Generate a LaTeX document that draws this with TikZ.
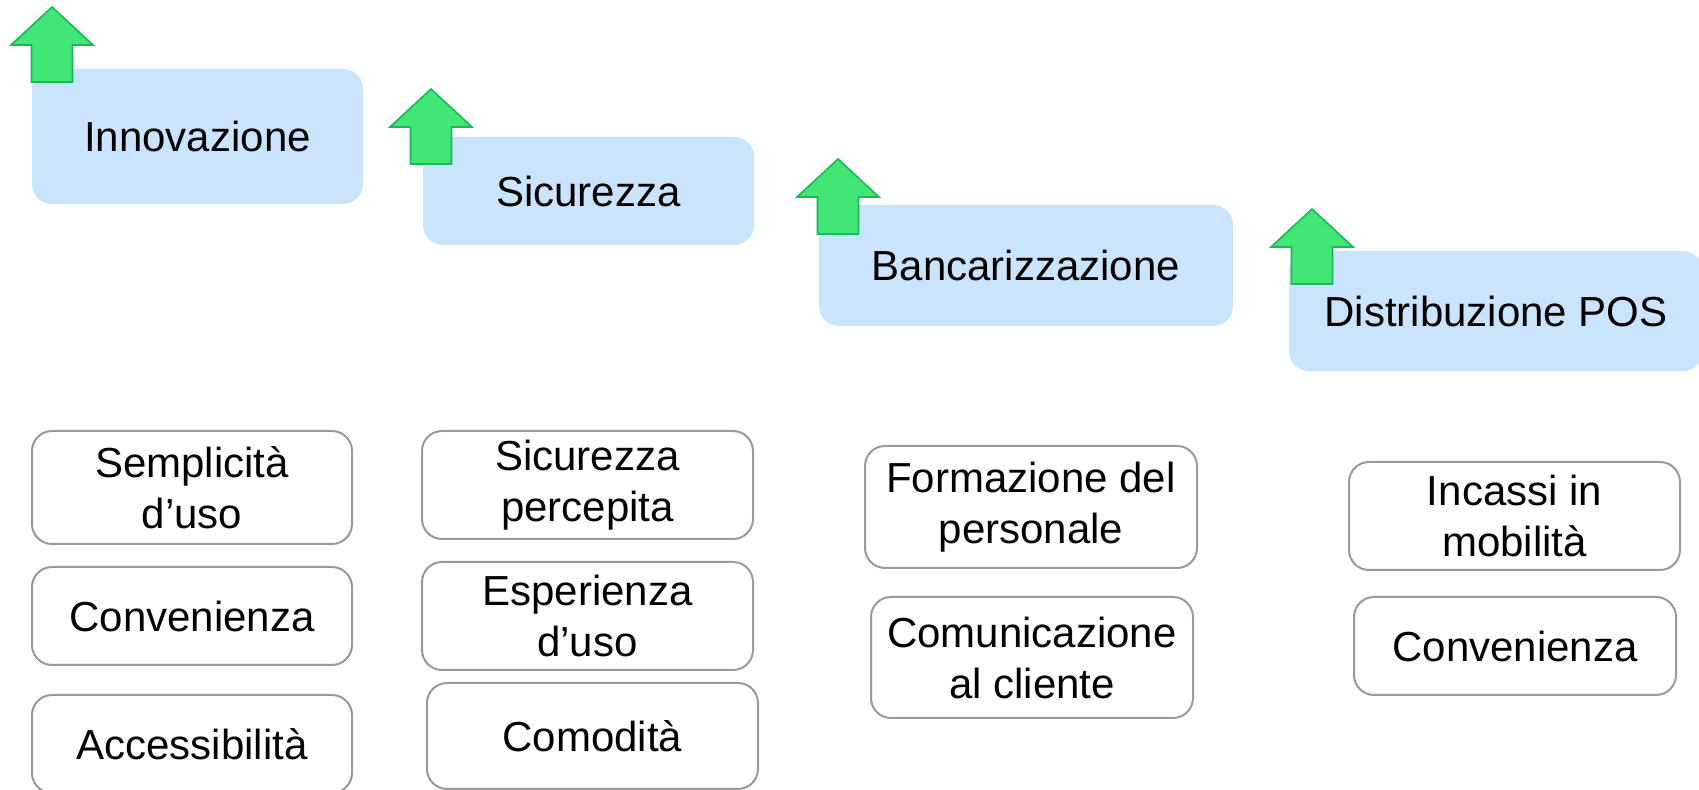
\documentclass[tikz,border=0pt]{standalone}
\usepackage{fontspec}
\setmainfont{Liberation Sans}
\definecolor{lblue}{HTML}{C9E4FB}
\definecolor{agreen}{HTML}{42E677}
\definecolor{dgreen}{HTML}{1BB85A}
\definecolor{bgray}{HTML}{9A9A9A}
\begin{document}
\begin{tikzpicture}[x=0.5pt,y=-0.5pt,
  txt/.style={align=center, inner sep=0pt, font=\fontsize{21}{25.5}\selectfont},
  tbox/.style={txt, rectangle, rounded corners=10pt, fill=lblue},
  bbox/.style={txt, rectangle, rounded corners=10pt, draw=bgray, line width=1pt, fill=white},
  garrow/.style={fill=agreen, draw=dgreen, line width=0.8pt, line join=miter}]
\useasboundingbox (0,0) rectangle (1699,790);
\clip (0,0) rectangle (1699,790);
% top boxes
\node[tbox, minimum width=165.5pt, minimum height=67.5pt] (inn) at (197.5,136.5) {Innovazione};
\node[tbox, minimum width=165.5pt, minimum height=54pt] (sic) at (588.5,191) {Sicurezza};
\node[tbox, minimum width=207pt, minimum height=60.5pt] (ban) at (1026,265.5) {Bancarizzazione};
\node[tbox, minimum width=207pt, minimum height=60pt] (dis) at (1496,311) {Distribuzione POS};
% arrows
\foreach \tx/\ty in {52/7, 431/89, 838/159, 1312/209}{
  \draw[garrow] (\tx,\ty) -- ++(41,38) -- ++(-20.5,0) -- ++(0,37) -- ++(-41,0) -- ++(0,-37) -- ++(-20.5,0) -- cycle;
}
% bottom boxes column 1
\node[bbox, minimum width=160pt, minimum height=56.5pt] (sem) at (192,487.5) {Semplicità\\d’uso};
\node[bbox, minimum width=160pt, minimum height=49pt] (con1) at (192,616) {Convenienza};
\node[bbox, minimum width=160pt, minimum height=49pt] (acc) at (192,744) {Accessibilità};
% column 2
\node[bbox, minimum width=165.5pt, minimum height=54pt] (sper) at (587.5,485) {Sicurezza\\percepita};
\node[bbox, minimum width=165.5pt, minimum height=54pt] (esp) at (587.5,616) {Esperienza\\d’uso};
\node[bbox, minimum width=165.5pt, minimum height=53pt] (com) at (592.5,736) {Comodità};
% column 3
\node[bbox, minimum width=166pt, minimum height=61pt] (for) at (1031,507) {Formazione del\\personale};
\node[bbox, minimum width=161pt, minimum height=60.5pt] (cli) at (1032,657.5) {Comunicazione\\al cliente};
% column 4
\node[bbox, minimum width=165.5pt, minimum height=54pt] (inc) at (1514.5,516) {Incassi in\\mobilità};
\node[bbox, minimum width=161pt, minimum height=49pt] (con2) at (1515,646) {Convenienza};
\end{tikzpicture}
\end{document}
